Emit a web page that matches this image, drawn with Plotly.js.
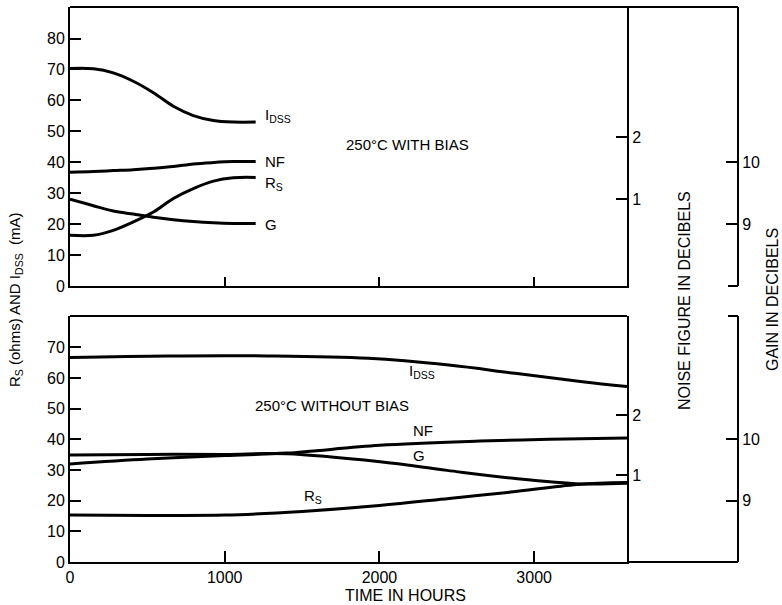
<!DOCTYPE html>
<html>
<head>
<meta charset="utf-8">
<script src="https://cdn.plot.ly/plotly-3.0.1.min.js"></script>
<style>html,body{margin:0;padding:0;background:#fff;}#chart{width:782px;height:605px;}</style>
</head>
<body>
<div id="chart"></div>
<script>
// ---- Upper panel: 250°C WITH BIAS ----
const upHours    = [0, 151, 280, 409, 539, 668, 797, 927, 1056, 1200];
const upIdss     = [70.3, 70.2, 68.9, 66.2, 62.5, 58.1, 55.1, 53.5, 53.0, 53.0];
const upRs       = [16.4, 16.4, 18.0, 20.7, 23.9, 28.3, 31.5, 33.9, 35.0, 35.1];
const upNF       = [1.433, 1.445, 1.46, 1.475, 1.497, 1.525, 1.567, 1.59, 1.605, 1.605];  // dB
const upG        = [9.40, 9.295, 9.21, 9.16, 9.11, 9.07, 9.04, 9.02, 9.01, 9.01];         // dB

// ---- Lower panel: 250°C WITHOUT BIAS ----
const loHoursI   = [0, 630, 1279, 1929, 2448, 2877, 3312, 3600];
const loIdss     = [66.7, 67.2, 67.2, 66.4, 64.2, 61.5, 58.8, 57.2];
const loHoursR   = [0, 500, 1000, 1500, 2000, 2450, 2850, 3280, 3600];
const loRs       = [15.3, 15.2, 15.3, 16.5, 18.4, 20.7, 22.8, 25.3, 25.9];
const loHoursNF  = [0, 500, 1000, 1400, 2000, 2650, 3100, 3600];
const loNF       = [1.19, 1.27, 1.33, 1.37, 1.50, 1.57, 1.60, 1.62];  // dB
const loHoursG   = [0, 500, 1000, 1400, 2004, 2437, 2866, 3300, 3600];
const loG        = [9.74, 9.75, 9.75, 9.76, 9.63, 9.49, 9.36, 9.27, 9.28]; // dB

const xTicksUp   = [1000, 2000, 3000];
const xTicksLo   = [0, 1000, 2000, 3000];
const yTicksUp   = [0, 10, 20, 30, 40, 50, 60, 70, 80];
const yTicksLo   = [0, 10, 20, 30, 40, 50, 60, 70];
const nfTicks    = [1, 2];
const gainTicks  = [9, 10];

const FONT = "Liberation Sans, Arial, Helvetica, sans-serif";
const lineStyle = {color: "#000", width: 3, shape: "spline", smoothing: 1};
const IDSS = "I<sub>DSS</sub>";

function tr(x, y, xa, ya) {
  return {x: x, y: y, xaxis: xa, yaxis: ya, type: "scatter", mode: "lines",
          line: lineStyle, hoverinfo: "skip", showlegend: false};
}

const data = [
  tr(upHours, upIdss, "x", "y"),
  tr(upHours, upRs, "x", "y"),
  tr(upHours, upNF, "x", "y3"),
  tr(upHours, upG, "x", "y4"),
  tr(loHoursI, loIdss, "x2", "y2"),
  tr(loHoursR, loRs, "x2", "y2"),
  tr(loHoursNF, loNF, "x2", "y5"),
  tr(loHoursG, loG, "x2", "y6")
];

const XD = 557 / 712;      // x domain end
const GP = 668 / 712;      // gain axis position
const UPB = 276 / 555;     // upper panel bottom
const LOT = 246 / 555;     // lower panel top

const axBase = {showline: true, linecolor: "#000", linewidth: 2, showgrid: false, zeroline: false,
                ticks: "inside", tickcolor: "#000", tickwidth: 2, ticklen: 11,
                tickfont: {family: FONT, size: 16, color: "#000"}, fixedrange: true};

const layout = {
  width: 782, height: 605,
  margin: {l: 70, r: 0, t: 7, b: 43},
  paper_bgcolor: "#fff", plot_bgcolor: "rgba(0,0,0,0)",
  showlegend: false,
  font: {family: FONT, size: 15, color: "#000"},
  xaxis: Object.assign({}, axBase, {domain: [0, XD], anchor: "y", range: [0, 3600],
          tickvals: xTicksUp, showticklabels: false, ticklen: 9}),
  xaxis2: Object.assign({}, axBase, {domain: [0, XD], anchor: "y2", range: [0, 3600],
          tickvals: xTicksLo, ticktext: xTicksLo.map(String), ticklen: 11}),
  yaxis: Object.assign({}, axBase, {domain: [UPB, 1], anchor: "x", range: [0, 90.2],
          tickvals: yTicksUp}),
  yaxis2: Object.assign({}, axBase, {domain: [0, LOT], anchor: "x2", range: [0, 80.2],
          tickvals: yTicksLo}),
  yaxis3: Object.assign({}, axBase, {overlaying: "y", anchor: "x", side: "right",
          range: [-0.41, 4.11], tickvals: nfTicks}),
  yaxis4: Object.assign({}, axBase, {overlaying: "y", anchor: "free", position: GP, side: "right",
          range: [8, 12.5], tickvals: gainTicks}),
  yaxis5: Object.assign({}, axBase, {overlaying: "y2", anchor: "x2", side: "right",
          range: [-0.445, 3.655], tickvals: nfTicks}),
  yaxis6: Object.assign({}, axBase, {overlaying: "y2", anchor: "free", position: GP, side: "right",
          range: [8, 12], tickvals: gainTicks}),
  shapes: [
    {type: "line", xref: "paper", yref: "paper", x0: 0, x1: GP, y0: 1, y1: 1, line: {color: "#000", width: 2}},
    {type: "line", xref: "paper", yref: "paper", x0: 0, x1: XD, y0: LOT, y1: LOT, line: {color: "#000", width: 2}},
    {type: "line", xref: "paper", yref: "paper", x0: XD, x1: GP, y0: 0, y1: 0, line: {color: "#000", width: 2}},
    {type: "line", xref: "paper", yref: "paper", x0: GP - 10/712, x1: GP, y0: UPB, y1: UPB, line: {color: "#000", width: 2}},
    {type: "line", xref: "paper", yref: "paper", x0: GP - 10/712, x1: GP, y0: LOT, y1: LOT, line: {color: "#000", width: 2}}
  ],
  annotations: [
    // upper curve labels
    {xref: "x", yref: "y", x: 1250, y: 55.0, xanchor: "left", yanchor: "middle", showarrow: false, text: IDSS},
    {xref: "x", yref: "y", x: 1250, y: 40.4, xanchor: "left", yanchor: "middle", showarrow: false, text: "NF"},
    {xref: "x", yref: "y", x: 1250, y: 33.0, xanchor: "left", yanchor: "middle", showarrow: false, text: "R<sub>S</sub>"},
    {xref: "x", yref: "y", x: 1250, y: 19.8, xanchor: "left", yanchor: "middle", showarrow: false, text: "G"},
    {xref: "x", yref: "y", x: 2180, y: 45.9, xanchor: "center", yanchor: "middle", showarrow: false, text: "250°C WITH BIAS"},
    // lower curve labels
    {xref: "x2", yref: "y2", x: 2180, y: 62.0, xanchor: "left", yanchor: "middle", showarrow: false, text: IDSS},
    {xref: "x2", yref: "y2", x: 1694, y: 50.9, xanchor: "center", yanchor: "middle", showarrow: false, text: "250°C WITHOUT BIAS"},
    {xref: "x2", yref: "y2", x: 2205, y: 43.0, xanchor: "left", yanchor: "middle", showarrow: false, text: "NF"},
    {xref: "x2", yref: "y2", x: 2205, y: 34.6, xanchor: "left", yanchor: "middle", showarrow: false, text: "G"},
    {xref: "x2", yref: "y2", x: 1500, y: 21.5, xanchor: "left", yanchor: "middle", showarrow: false, text: "R<sub>S</sub>"},
    // axis titles
    {xref: "paper", yref: "paper", x: (16 - 70) / 712, y: (562 - 300) / 555, xanchor: "center", yanchor: "middle",
     showarrow: false, textangle: -90,
     text: "R<sub>S</sub> (ohms) AND " + IDSS + "  (mA)", font: {size: 15}},
    {xref: "paper", yref: "paper", x: (685 - 70) / 712, y: (562 - 301) / 555, xanchor: "center", yanchor: "middle",
     showarrow: false, textangle: -90, text: "NOISE FIGURE IN DECIBELS", font: {size: 16}},
    {xref: "paper", yref: "paper", x: (773 - 70) / 712, y: (562 - 300) / 555, xanchor: "center", yanchor: "middle",
     showarrow: false, textangle: -90, text: "GAIN IN DECIBELS", font: {size: 16}},
    {xref: "paper", yref: "paper", x: (405 - 70) / 712, y: -(595 - 562) / 555, xanchor: "center", yanchor: "middle",
     showarrow: false, text: "TIME IN HOURS", font: {size: 16}}
  ]
};

Plotly.newPlot("chart", data, layout, {staticPlot: true, displayModeBar: false});
</script>
</body>
</html>
